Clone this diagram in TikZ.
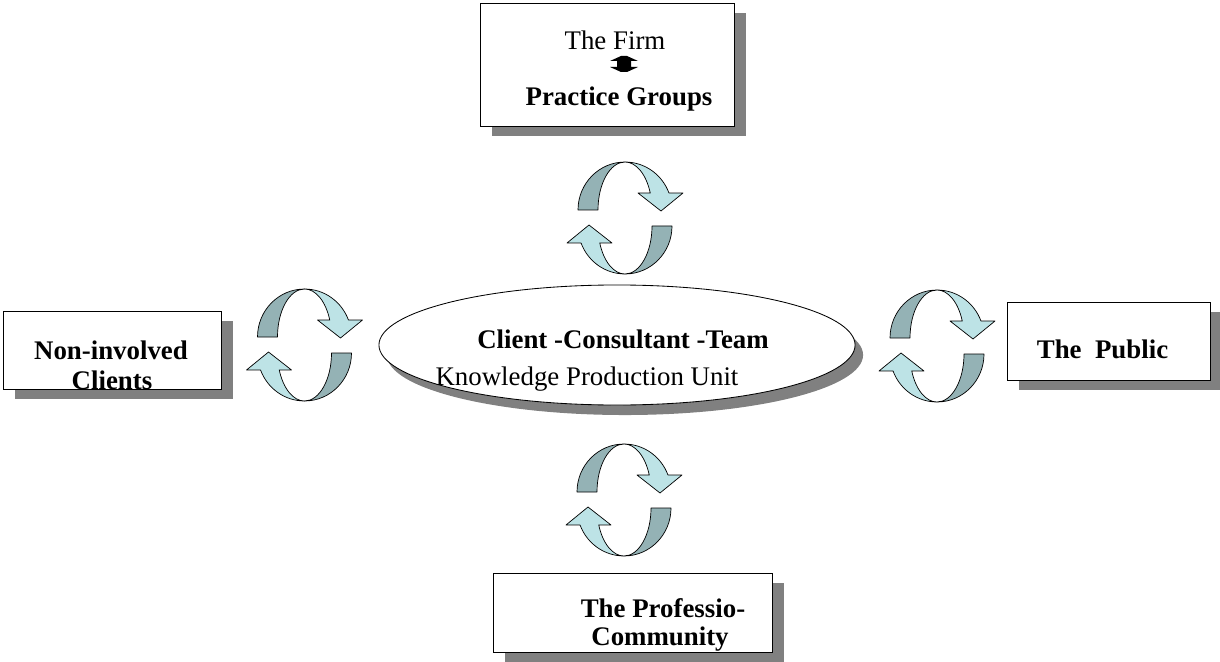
\documentclass[tikz,border=0pt]{standalone}
\usepackage{fontspec}
\setmainfont{Liberation Serif}
\usetikzlibrary{shapes.geometric,shadows}

\definecolor{ringdark}{RGB}{148,178,181}
\definecolor{ringlight}{RGB}{189,227,230}
\definecolor{shadowgray}{RGB}{128,128,128}

\begin{document}
\begin{tikzpicture}[
    x=0.025cm, y=0.025cm,
    panel/.style={rectangle, draw=black, line width=0.6pt, fill=white, inner sep=0pt, drop shadow={shadow xshift=0.3cm, shadow yshift=-0.25cm, fill=shadowgray, opacity=1}},
    core/.style={ellipse, draw=black, line width=0.6pt, fill=white, inner sep=0pt, minimum width=11.9cm, minimum height=3cm, drop shadow={shadow xshift=0.2cm, shadow yshift=-0.25cm, fill=shadowgray, opacity=1}},
    txt/.style={anchor=base, inner sep=0pt, font=\fontsize{19.1}{22}\selectfont},
    boldtxt/.style={txt, font=\fontsize{19.1}{22}\selectfont\bfseries},
    ribbon/.style={draw=black, line width=0.5pt, line join=round},
    halfring/.pic={
        \path[ribbon, fill=ringdark] (-47,8) arc[start angle=180, end angle=90, x radius=47, y radius=48]
            arc[start angle=90, end angle=180, x radius=27, y radius=48] -- cycle;
        \path[ribbon, fill=ringlight] (0,56) arc[start angle=90, end angle=20.7, x radius=47, y radius=48]
            -- (58,25) -- (36,7) -- (13,25) -- ([shift={(0,8)}]20.7:27 and 48)
            arc[start angle=20.7, end angle=90, x radius=27, y radius=48] -- cycle;
    },
    exchange/.pic={
        \pic {halfring};
        \pic[rotate=180] {halfring};
    }
]
\useasboundingbox (0,0) rectangle (1220,-662);

% Surrounding boxes
\node[panel, minimum width=6.35cm, minimum height=3.075cm] (firm) at (607,-64.5) {};
\node[panel, minimum width=5.45cm, minimum height=1.95cm] (clients) at (112,-350) {};
\node[panel, minimum width=5.075cm, minimum height=1.95cm] (public) at (1108.5,-341) {};
\node[panel, minimum width=6.975cm, minimum height=1.975cm] (community) at (632.5,-612.5) {};

% Central unit
\node[core] (team) at (617,-345) {};

% Labels
\node[txt] (firmname) at (615,-50) {The Firm};
\node[boldtxt] (groups) at (619,-106) {Practice Groups};
\node[boldtxt] (noninv) at (111,-359) {Non-involved};
\node[boldtxt] (clientsname) at (112,-389) {Clients};
\node[boldtxt] (publicname) at (1102.5,-358) {The\hspace{0.5em}Public};
\node[boldtxt] (profession) at (663,-617) {The Professio-};
\node[boldtxt] (communityname) at (660,-645) {Community};
\node[boldtxt] (teamname) at (623,-348) {Client -Consultant -Team};
\node[txt] (unitname) at (587,-385) {Knowledge Production Unit};

% Firm <-> groups
\coordinate (swap) at (624,-64);
\fill[shift={(swap)}] (-3,8) -- (3,8) -- (14,3) -- (7,3) -- (7,-3) -- (14,-3) -- (3,-8)
    -- (-3,-8) -- (-14,-3) -- (-7,-3) -- (-7,3) -- (-14,3) -- cycle;

% Exchange cycles
\pic (ringtop) at (625,-218) {exchange};
\pic (ringleft) at (304.5,-345) {exchange};
\pic (ringright) at (937,-346) {exchange};
\pic (ringbottom) at (624,-500) {exchange};

\end{tikzpicture}
\end{document}
